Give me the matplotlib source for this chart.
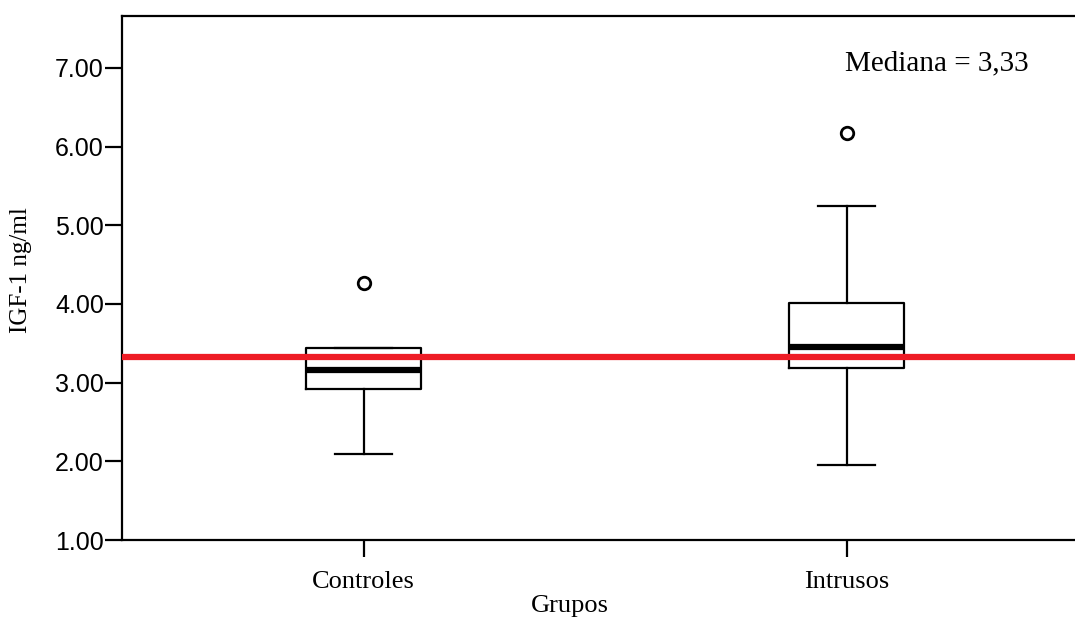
import matplotlib
matplotlib.use("Agg")
import matplotlib.pyplot as plt

groups = ["Controles", "Intrusos"]
q1 = [2.92, 3.19]
med = [3.16, 3.45]
q3 = [3.44, 4.01]
whislo = [2.09, 1.95]
whishi = [3.44, 5.25]
outliers = [[4.27], [6.17]]
overall_median = 3.33
yticks = [1.0, 2.0, 3.0, 4.0, 5.0, 6.0, 7.0]

fig = plt.figure(figsize=(10.75, 6.21), dpi=100)
ax = fig.add_axes([122/1075, 1 - 540/621, (1088-122)/1075, (540-16)/621])

stats = []
for i, g in enumerate(groups):
    stats.append(dict(label=g, q1=q1[i], med=med[i], q3=q3[i],
                      whislo=whislo[i], whishi=whishi[i], fliers=outliers[i]))

ax.bxp(stats, positions=[1, 2], widths=0.24, showfliers=True,
       boxprops=dict(color="black", linewidth=1.6),
       medianprops=dict(color="black", linewidth=4.5),
       whiskerprops=dict(color="black", linewidth=1.6),
       capprops=dict(color="black", linewidth=1.6),
       capwidths=0.12,
       flierprops=dict(marker="o", markersize=9, markerfacecolor="white",
                       markeredgecolor="black", markeredgewidth=2))

ax.axhline(overall_median, color="#ee1c25", linewidth=4.5, zorder=5)

ax.set_xlim(0.5, 2.5)
ax.set_ylim(1.0, 7.66)
ax.set_yticks(yticks)
ax.set_yticklabels([f"{v:.2f}" for v in yticks], fontfamily="Liberation Sans", fontsize=18)
ax.set_xticks([1, 2])
ax.set_xticklabels(groups, fontfamily="Liberation Serif", fontsize=19)
ax.tick_params(axis="both", direction="out", length=12, width=1.6, color="black")
ax.tick_params(axis="x", pad=10)
ax.tick_params(axis="y", pad=1)

for s in ["left", "bottom", "top"]:
    ax.spines[s].set_linewidth(1.6)
ax.spines["right"].set_visible(False)

ax.set_ylabel("IGF-1 ng/ml", fontfamily="Liberation Serif", fontsize=18)
ax.yaxis.set_label_coords(-0.093, 0.515)
ax.set_xlabel("Grupos", fontfamily="Liberation Serif", fontsize=19)
ax.xaxis.set_label_coords(0.464, -0.105)

ax.text(0.748, 0.910, "Mediana = 3,33", transform=ax.transAxes,
        fontfamily="Liberation Serif", fontsize=21, ha="left", va="center")

fig.savefig("out.png", dpi=100)
